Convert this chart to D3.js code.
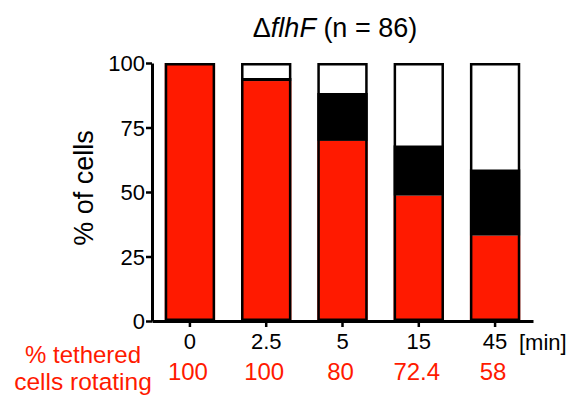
<!DOCTYPE html>
<html>
<head>
<meta charset="utf-8">
<script src="https://cdn.jsdelivr.net/npm/d3@7"></script>
<style>
  body { margin: 0; background: #fff; }
  svg text { font-family: "Liberation Sans", Arial, sans-serif; }
</style>
</head>
<body>
<svg id="chart" width="568" height="400"></svg>
<script>
// time points (min) and stacked percentages
var times = ["0", "2.5", "5", "15", "45"];
var redPct = [100, 93.0, 69.8, 48.6, 33.1];
var blackPct = [0, 1.2, 18.6, 19.5, 25.7];
var whitePct = [0, 5.8, 11.6, 31.9, 41.2];
var rotating = ["100", "100", "80", "72.4", "58"];
var yTicks = [0, 25, 50, 75, 100];

var red = "#ff1a00";
var svg = d3.select("#chart");

var x = d3.scaleBand().domain(times).range([152, 533]).paddingInner(0.34).paddingOuter(0.167);
var y = d3.scaleLinear().domain([0, 100]).range([321, 63]);

var rows = times.map(function (t, i) {
    return {t: t, red: redPct[i], black: blackPct[i], white: whitePct[i]};
});
var stack = d3.stack().keys(["red", "black", "white"])(rows);
var colors = {red: red, black: "#000", white: "#fff"};

stack.forEach(function (layer) {
    svg.append("g").selectAll("rect")
        .data(layer)
        .enter().append("rect")
        .attr("x", function (d) { return x(d.data.t); })
        .attr("width", x.bandwidth())
        .attr("y", function (d) { return y(d[1]); })
        .attr("height", function (d) { return y(d[0]) - y(d[1]); })
        .attr("fill", colors[layer.key]);
});

// bar outlines
svg.append("g").selectAll("rect")
    .data(rows)
    .enter().append("rect")
    .attr("x", function (d) { return x(d.t) + 1.25; })
    .attr("width", x.bandwidth() - 2.5)
    .attr("y", y(100) + 1.25)
    .attr("height", y(0) - y(100) - 2.5)
    .attr("fill", "none")
    .attr("stroke", "#000")
    .attr("stroke-width", 2.5);

// axes
var yAxis = svg.append("g")
    .attr("transform", "translate(152,0)")
    .call(d3.axisLeft(y).tickValues(yTicks).tickSize(6).tickSizeOuter(0).tickPadding(1));
var xAxis = svg.append("g")
    .attr("transform", "translate(0,321)")
    .call(d3.axisBottom(x).tickSize(6).tickSizeOuter(0).tickPadding(6));

[yAxis, xAxis].forEach(function (a) {
    a.select(".domain").attr("stroke-width", 3);
    a.selectAll(".tick line").attr("stroke-width", 2.5);
    a.selectAll(".tick text").attr("font-size", 22).attr("fill", "#000")
        .style("font-family", "'Liberation Sans', Arial, sans-serif");
});
yAxis.selectAll(".tick text").attr("dy", "0.36em");

svg.append("text")
    .attr("x", 519).attr("y", 350)
    .attr("font-size", 22)
    .text("[min]");

// y label
svg.append("text")
    .attr("transform", "translate(93,188) rotate(-90)")
    .attr("text-anchor", "middle")
    .attr("font-size", 27)
    .text("% of cells");

// title
var title = svg.append("text")
    .attr("x", 335).attr("y", 37)
    .attr("text-anchor", "middle")
    .attr("font-size", 27);
title.append("tspan").text("\u0394");
title.append("tspan").attr("font-style", "italic").text("flhF");
title.append("tspan").text(" (n = 86)");

// rotating cells row
svg.append("g").selectAll("text")
    .data(rotating)
    .enter().append("text")
    .attr("x", function (d, i) { return x(times[i]) + x.bandwidth() / 2 - 2; })
    .attr("y", 380)
    .attr("text-anchor", "middle")
    .attr("font-size", 24)
    .attr("fill", red)
    .text(function (d) { return d; });

svg.append("text")
    .attr("x", 83).attr("y", 363)
    .attr("text-anchor", "middle")
    .attr("font-size", 24)
    .attr("fill", red)
    .text("% tethered");
svg.append("text")
    .attr("x", 83).attr("y", 390)
    .attr("text-anchor", "middle")
    .attr("font-size", 24.5)
    .attr("fill", red)
    .text("cells rotating");
</script>
</body>
</html>
